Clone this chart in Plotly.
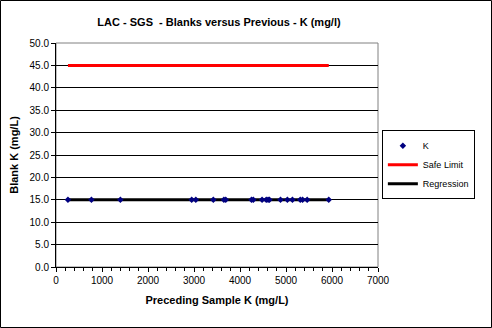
import plotly.graph_objects as go

k_x = [260, 770, 1400, 2950, 3040, 3420, 3650, 3690, 4250, 4290, 4480,
       4570, 4610, 4640, 4880, 5030, 5140, 5310, 5360, 5460, 5930]
k_y = [15.0] * len(k_x)
safe_x = [260, 5930]
safe_y = [45.0, 45.0]
reg_x = [260, 5930]
reg_y = [15.0, 15.0]

font = "Liberation Sans, Arial, sans-serif"

fig = go.Figure()
fig.add_trace(go.Scatter(x=reg_x, y=reg_y, mode="lines", name="Regression",
                         line=dict(color="black", width=3), showlegend=False))
fig.add_trace(go.Scatter(x=k_x, y=k_y, mode="markers", name="K",
                         marker=dict(symbol="diamond", size=5, color="#000080")))
fig.add_trace(go.Scatter(x=safe_x, y=safe_y, mode="lines", name="Safe Limit",
                         line=dict(color="#ff0000", width=3)))
fig.add_trace(go.Scatter(x=[None], y=[None], mode="lines", name="Regression",
                         line=dict(color="black", width=3)))

fig.update_layout(
    width=492, height=328,
    margin=dict(l=56, r=114, t=43, b=61),
    paper_bgcolor="white", plot_bgcolor="white",
    font=dict(family=font, size=10, color="black"),
    title=dict(text="<b>LAC - SGS  - Blanks versus Previous - K (mg/l)</b>",
               x=219 / 492, xanchor="center", y=1 - 22 / 328, yanchor="middle",
               font=dict(size=11)),
    showlegend=True,
    legend=dict(x=1.012, xanchor="left", y=0.61, yanchor="top",
                bordercolor="black", borderwidth=1, bgcolor="white",
                font=dict(size=9), tracegroupgap=2, itemwidth=30),
    xaxis=dict(range=[0, 7000], dtick=1000, tick0=0, showgrid=False,
               showline=True, linecolor="black", linewidth=1,
               ticks="outside", ticklen=4, tickcolor="black",
               minor=dict(dtick=200, ticks="outside", ticklen=3, tickcolor="black"),
               zeroline=False,
               title=dict(text="<b>Preceding Sample K (mg/L)</b>", font=dict(size=11), standoff=11)),
    yaxis=dict(range=[0, 50], dtick=5, tickformat=".1f", showgrid=True,
               gridcolor="black", gridwidth=1,
               showline=True, linecolor="black", linewidth=1,
               ticks="outside", ticklen=4, tickcolor="black", zeroline=False,
               title=dict(text="<b>Blank K (mg/L)</b>", font=dict(size=11), standoff=8)),
)
fig.add_shape(type="rect", xref="paper", yref="paper", x0=0, y0=0, x1=1, y1=1,
              line=dict(color="#808080", width=1), layer="below")
fig.add_shape(type="rect", xref="paper", yref="paper",
              x0=-56 / 322 + 0.5 / 322, x1=1 + 113.5 / 322,
              y0=-61 / 224 + 0.5 / 224, y1=1 + 42.5 / 224,
              line=dict(color="black", width=1))
fig.write_html("out.html")
